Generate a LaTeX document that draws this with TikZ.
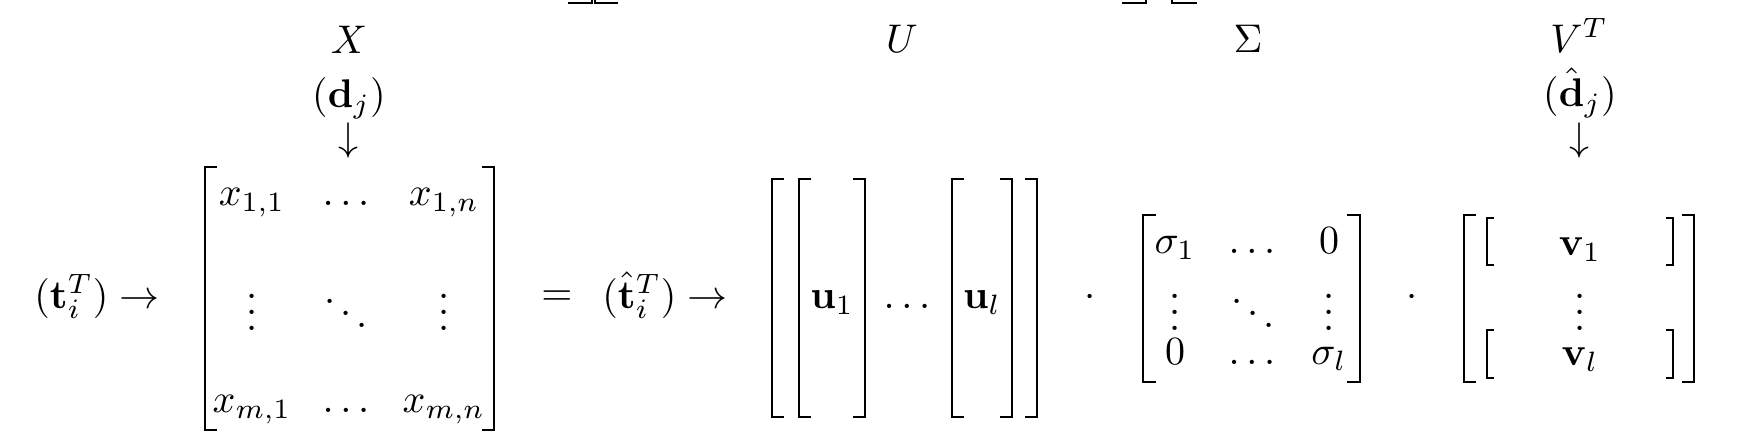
\documentclass[tikz,border=0pt]{standalone}
\usepackage{amsmath}
\usepackage{amssymb}
\newcommand{\brL}[5]{\draw[#5] ({#1+#4},#2) -- (#1,#2) -- (#1,#3) -- ({#1+#4},#3);}
\newcommand{\brR}[5]{\draw[#5] ({#1-#4},#2) -- (#1,#2) -- (#1,#3) -- ({#1-#4},#3);}
\begin{document}
\begin{tikzpicture}[x=0.25pt,y=-0.25pt,
  brk/.style={line width=0.6pt, line cap=butt, line join=miter},
  thinbrk/.style={line width=0.42pt, line cap=butt, line join=miter},
  lbl/.style={inner sep=0pt, outer sep=0pt, anchor=center},
  ent/.style={inner sep=0pt, outer sep=0pt, anchor=base}]
\useasboundingbox (0,0) rectangle (1738,440);
% clipped fragments at the top edge
\draw[brk] (568,3) -- (592,3) -- (592,0);
\draw[brk] (595,0) -- (595,3) -- (618,3);
\draw[brk] (1122,3) -- (1146,3) -- (1146,0);
\draw[brk] (1172,0) -- (1172,3) -- (1197,3);

% labels above
\node[ent] (lX) at (349,53) {$X$};
\node[ent] (dj) at (349,107) {$(\mathbf{d}_j)$};
\node[lbl] (ardj) at (349,140) {$\downarrow$};
\node[ent] (lU) at (902,52) {$U$};
\node[ent] (lS) at (1248,52) {$\Sigma$};
\node[ent] (lV) at (1579,52) {$V^T$};
\node[ent] (dhj) at (1580,106) {$(\hat{\mathbf{d}}_j)$};
\node[lbl] (ardhj) at (1579,140) {$\downarrow$};

% left side
\node[ent] (ti) at (97,308) {$(\mathbf{t}_i^T) \rightarrow$};
% X matrix
\brL{205}{167}{430}{12}{brk}
\brR{494}{167}{430}{12}{brk}
\node[ent] (x11) at (252,205) {$x_{1,1}$};
\node[ent] (x1d) at (346,205) {$\ldots$};
\node[ent] (x1n) at (444,205) {$x_{1,n}$};
\node[lbl] (xv1) at (252,300) {$\vdots$};
\node[lbl] (xdd) at (346,301) {$\ddots$};
\node[lbl] (xvn) at (444,300) {$\vdots$};
\node[ent] (xm1) at (252,412) {$x_{m,1}$};
\node[ent] (xmd) at (346,412) {$\ldots$};
\node[ent] (xmn) at (444,412) {$x_{m,n}$};

\node[lbl] (eq) at (557,298) {$=$};
\node[ent] (tih) at (665,308) {$(\hat{\mathbf{t}}_i^T) \rightarrow$};

% U matrix
\brL{772}{179}{417}{12}{brk}
\brR{1037}{179}{417}{12}{brk}
\brL{799}{179}{417}{12}{brk}
\brR{865}{179}{417}{12}{brk}
\brL{952}{179}{417}{12}{brk}
\brR{1012}{179}{417}{12}{brk}
\node[ent] (u1) at (832,308) {$\mathbf{u}_1$};
\node[ent] (ud) at (907,308) {$\ldots$};
\node[ent] (ul) at (982,308) {$\mathbf{u}_l$};

\node[lbl] (dot1) at (1090,298) {$\cdot$};

% Sigma matrix
\brL{1143}{215}{382}{13}{brk}
\brR{1360}{215}{382}{13}{brk}
\node[ent] (s11) at (1175,253) {$\sigma_1$};
\node[ent] (s1d) at (1252,253) {$\ldots$};
\node[ent] (s1n) at (1329,253) {$0$};
\node[lbl] (sv1) at (1175,300) {$\vdots$};
\node[lbl] (sdd) at (1253,301) {$\ddots$};
\node[lbl] (svn) at (1329,300) {$\vdots$};
\node[ent] (sm1) at (1175,364) {$0$};
\node[ent] (smd) at (1252,364) {$\ldots$};
\node[ent] (smn) at (1329,364) {$\sigma_l$};

\node[lbl] (dot2) at (1412,298) {$\cdot$};

% V^T matrix
\brL{1464}{215}{382}{12}{brk}
\brR{1694}{215}{382}{12}{brk}
\brL{1487}{218}{265}{7}{thinbrk}
\brR{1673}{218}{265}{7}{thinbrk}
\brL{1487}{330}{378}{7}{thinbrk}
\brR{1673}{330}{378}{7}{thinbrk}
\node[ent] (v1) at (1580,255) {$\mathbf{v}_1$};
\node[lbl] (vv) at (1580,300) {$\vdots$};
\node[ent] (vl) at (1580,365) {$\mathbf{v}_l$};
\end{tikzpicture}
\end{document}
